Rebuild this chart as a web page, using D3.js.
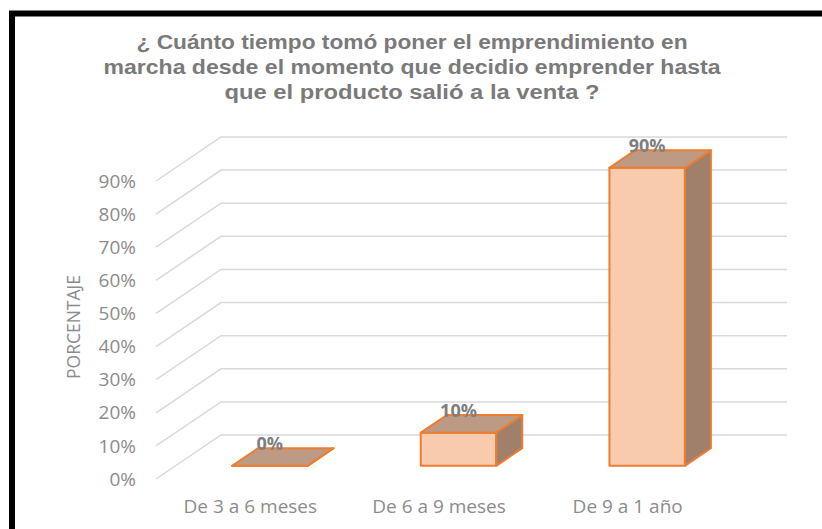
<!DOCTYPE html>
<html>
<head>
<meta charset="utf-8">
<script src="https://cdn.jsdelivr.net/npm/d3@7"></script>
<style>
  body { margin: 0; background: #fff; }
  svg { display: block; }
</style>
</head>
<body>
<svg id="chart" width="822" height="529"></svg>
<script>
const categories = ['De 3 a 6 meses', 'De 6 a 9 meses', 'De 9 a 1 año'];
const values = [0, 0.1, 0.9];
const ticks = [0, 0.1, 0.2, 0.3, 0.4, 0.5, 0.6, 0.7, 0.8, 0.9];
const titleLines = [
  '¿ Cuánto tiempo tomó poner el emprendimiento en',
  'marcha desde el momento que decidio emprender hasta',
  'que el producto salió a la venta ?'
];

const svg = d3.select('#chart');

// frame
svg.append('rect')
  .attr('x', 12).attr('y', 13.5)
  .attr('width', 840).attr('height', 540)
  .style('fill', 'none')
  .style('stroke', '#000')
  .style('stroke-width', 6);

// title
const titleWidths = [551, 617, 375];
svg.append('g')
  .selectAll('text')
  .data(titleLines)
  .enter()
  .append('text')
  .attr('x', 412)
  .attr('y', (d, i) => 49 + i * 25)
  .attr('text-anchor', 'middle')
  .attr('textLength', (d, i) => titleWidths[i])
  .attr('lengthAdjust', 'spacingAndGlyphs')
  .style('font-family', '"Liberation Sans", Arial, sans-serif')
  .style('font-weight', 'bold')
  .style('font-size', '20px')
  .style('fill', '#7a7a7a')
  .text((d) => d);

// 3D frame geometry
const floorY = 479;
const depth = { dx: 65, dy: -44 };
const barDepth = [0.3, 0.7];

const scaleX = d3.scaleBand()
  .domain(categories)
  .range([156, 722])
  .padding(0);

const scaleY = d3.scaleLinear()
  .domain([0, 0.9])
  .range([floorY, 181]);

const pt = (x, v, d) => [x + d * depth.dx, scaleY(v) + d * depth.dy];

// gridlines: left wall diagonal + back wall horizontal
const grid = svg.append('g');
ticks.forEach((t) => {
  const a = pt(156, t, 0);
  const b = pt(156, t, 1);
  const c = pt(722, t, 1);
  grid.append('polyline')
    .attr('points', [a, b, c].map((p) => p.join(',')).join(' '))
    .style('fill', 'none')
    .style('stroke', '#d9d9d9')
    .style('stroke-width', 1.5);
});

// y tick labels
svg.append('g')
  .selectAll('text')
  .data(ticks)
  .enter()
  .append('text')
  .attr('x', 136)
  .attr('y', (d) => scaleY(d))
  .attr('dy', '0.35em')
  .attr('text-anchor', 'end')
  .style('font-family', '"Open Sans", sans-serif')
  .style('font-size', '19px')
  .style('fill', '#8c8c8c')
  .text((d) => d3.format('.0%')(d));

// y axis title
svg.append('text')
  .attr('transform', 'translate(80,327) rotate(-90)')
  .attr('text-anchor', 'middle')
  .style('font-family', '"Open Sans", sans-serif')
  .style('font-size', '17.5px')
  .style('fill', '#8c8c8c')
  .text('PORCENTAJE');

// x labels
svg.append('g')
  .selectAll('text')
  .data(categories)
  .enter()
  .append('text')
  .attr('x', (d) => scaleX(d) + scaleX.bandwidth() / 2)
  .attr('y', 513)
  .attr('text-anchor', 'middle')
  .style('font-family', '"Open Sans", sans-serif')
  .style('font-size', '19px')
  .style('fill', '#8c8c8c')
  .text((d) => d);

// bars
const barW = scaleX.bandwidth() * 0.4;
const bars = svg.append('g');
const poly = (pts, fill) => bars.append('polygon')
  .attr('points', pts.map((p) => p.join(',')).join(' '))
  .style('fill', fill)
  .style('stroke', '#ed7d31')
  .style('stroke-width', 2)
  .style('stroke-linejoin', 'round');

categories.forEach((c, i) => {
  const v = values[i];
  const x0 = scaleX(c) + (scaleX.bandwidth() - barW) / 2;
  const x1 = x0 + barW;
  const [f, b] = barDepth;
  // front
  poly([pt(x0, 0, f), pt(x1, 0, f), pt(x1, v, f), pt(x0, v, f)], '#f8cbad');
  // side
  poly([pt(x1, 0, f), pt(x1, 0, b), pt(x1, v, b), pt(x1, v, f)], '#a0806a');
  // top
  poly([pt(x0, v, f), pt(x1, v, f), pt(x1, v, b), pt(x0, v, b)], '#bd9a84');
});

// data labels
svg.append('g')
  .selectAll('text')
  .data(values)
  .enter()
  .append('text')
  .attr('x', (d, i) => scaleX(categories[i]) + scaleX.bandwidth() / 2 + barDepth[0] * depth.dx)
  .attr('y', (d) => scaleY(d) + barDepth[1] * depth.dy + 2)
  .attr('text-anchor', 'middle')
  .style('font-family', '"Open Sans", sans-serif')
  .style('font-weight', 'bold')
  .style('font-size', '18px')
  .style('fill', '#7f7f7f')
  .text((d) => d3.format('.0%')(d));
</script>
</body>
</html>
